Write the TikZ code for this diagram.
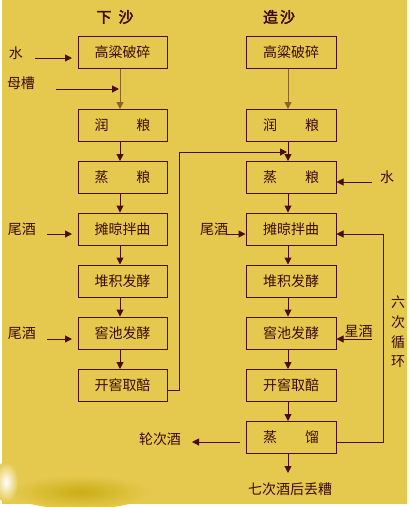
\documentclass[tikz,border=0pt]{standalone}
\usepackage{fontspec}
\newfontfamily\cjk{Noto Sans CJK SC}
\newfontfamily\cjkb[FakeBold=2.5]{Noto Sans CJK SC}
\usetikzlibrary{arrows.meta}
\definecolor{bg}{HTML}{E5C94F}
\definecolor{smear}{HTML}{CBAD12}
\definecolor{ln}{HTML}{4A0C0C}
\definecolor{lnb}{HTML}{8A6428}
\definecolor{tx}{HTML}{3A0A0A}
\begin{document}
\begin{tikzpicture}[x=1pt,y=-1pt,
  box/.style={draw=ln,line width=1pt,fill=bg,minimum width=89pt,minimum height=32pt,inner sep=0pt,text=tx,font=\cjk\fontsize{14}{16}\selectfont},
  lbl/.style={text=tx,inner sep=0pt,font=\cjk\fontsize{14}{16}\selectfont},
  ttl/.style={text=tx,inner sep=0pt,font=\cjkb\fontsize{15}{17}\selectfont},
  con/.style={draw=ln,line width=1pt},
  arr/.style={con,-{Triangle[length=7pt,width=7pt]}}]
\useasboundingbox (0,0) rectangle (409,507);
\fill[white] (0,0) rectangle (409,507);
\fill[bg] (2,0) rectangle (407,504);
\shade[inner color=smear,outer color=bg] (80,492) ellipse [x radius=70pt,y radius=17pt];
\shade[inner color=white,outer color=bg] (6,482) ellipse [x radius=12pt,y radius=20pt];
% titles
\node[ttl] (t1) at (115,17) {下\hspace{7pt}沙};
\node[ttl] (t2) at (279,17) {造\hspace{2pt}沙};
% left column
\node[box] (a1) at (122.5,52.5) {高粱破碎};
\node[box] (a2) at (122.5,125.5) {润　　粮};
\node[box] (a3) at (122.5,177.5) {蒸　　粮};
\node[box] (a4) at (122.5,229) {摊晾拌曲};
\node[box] (a5) at (122.5,281) {堆积发酵};
\node[box] (a6) at (122.5,333) {窖池发酵};
\node[box] (a7) at (122.5,385.5) {开窖取醅};
% right column
\node[box,minimum width=90pt] (b1) at (291,52.5) {高粱破碎};
\node[box,minimum width=90pt] (b2) at (291,125.5) {润　　粮};
\node[box,minimum width=90pt] (b3) at (291,177.5) {蒸　　粮};
\node[box,minimum width=90pt] (b4) at (291,229) {摊晾拌曲};
\node[box,minimum width=90pt] (b5) at (291,281) {堆积发酵};
\node[box,minimum width=90pt] (b6) at (291,333) {窖池发酵};
\node[box,minimum width=90pt] (b7) at (291,385.5) {开窖取醅};
\node[box,minimum width=90pt] (b8) at (291,437.5) {蒸　　馏};
\coordinate (Lx) at (120,0);
\coordinate (Rx) at (288,0);
% vertical arrows
\draw[arr,draw=lnb] (a1.south -| Lx) -- (a2.north -| Lx);
\draw[arr,draw=lnb] (b1.south -| Rx) -- (b2.north -| Rx);
\foreach \p/\q in {a2/a3,a3/a4,a4/a5,a5/a6,a6/a7}{\draw[arr] (\p.south -| Lx) -- (\q.north -| Lx);}
\foreach \p/\q in {b2/b3,b3/b4,b4/b5,b5/b6,b6/b7,b7/b8}{\draw[arr] (\p.south -| Rx) -- (\q.north -| Rx);}
% left inputs
\node[lbl] (w1) at (16,53) {水};
\coordinate (w1s) at (35,58); \coordinate (w1e) at (72,58);
\draw[arr] (w1s) -- (w1e);
\node[lbl] (m1) at (21,83) {母槽};
\coordinate (m1s) at (56,89); \coordinate (m1e) at (119,89);
\draw[arr] (m1s) -- (m1e);
\node[lbl] (y1) at (22,229) {尾酒};
\coordinate (y1s) at (47,234); \coordinate (y1e) at (72,234);
\draw[arr] (y1s) -- (y1e);
\node[lbl] (y2) at (22,333) {尾酒};
\coordinate (y2s) at (47,339); \coordinate (y2e) at (72,339);
\draw[arr] (y2s) -- (y2e);
% right inputs
\node[lbl] (w2) at (387,177) {水};
\coordinate (w2s) at (372,182);
\draw[arr] (w2s) -- (w2s -| b3.east);
\node[lbl] (y3) at (214,229) {尾酒};
\coordinate (y3s) at (227,234);
\draw[arr] (y3s) -- (y3s -| b4.west);
\node[lbl] (y4) at (358.5,331) {星酒};
\coordinate (y4s) at (372,339);
\draw[arr] (y4s) -- (y4s -| b6.east);
% transfer from left to right
\coordinate (c1) at (167,390);
\coordinate (c2) at (179,390);
\coordinate (c3) at (179,152);
\coordinate (c4) at (287,152);
\draw[arr] (c1) -- (c2) -- (c3) -- (c4);
% six-time loop
\coordinate (l1) at (383,442);
\coordinate (l2) at (383,234);
\draw[arr] (l1 -| b8.east) -- (l1) -- (l2) -- (l2 -| b4.east);
\node[lbl] (s1) at (398,302) {六};
\node[lbl] (s2) at (398,322) {次};
\node[lbl] (s3) at (398,342) {循};
\node[lbl] (s4) at (398,362) {环};
% outputs
\node[lbl] (o1) at (160,439) {轮次酒};
\coordinate (o1s) at (240,442); \coordinate (o1e) at (192,442);
\draw[arr] (o1s) -- (o1e);
\node[lbl] (o2) at (290,489) {七次酒后丢糟};
\coordinate (o2e) at (288,473);
\draw[arr] (b8.south -| Rx) -- (o2e);
\end{tikzpicture}
\end{document}
